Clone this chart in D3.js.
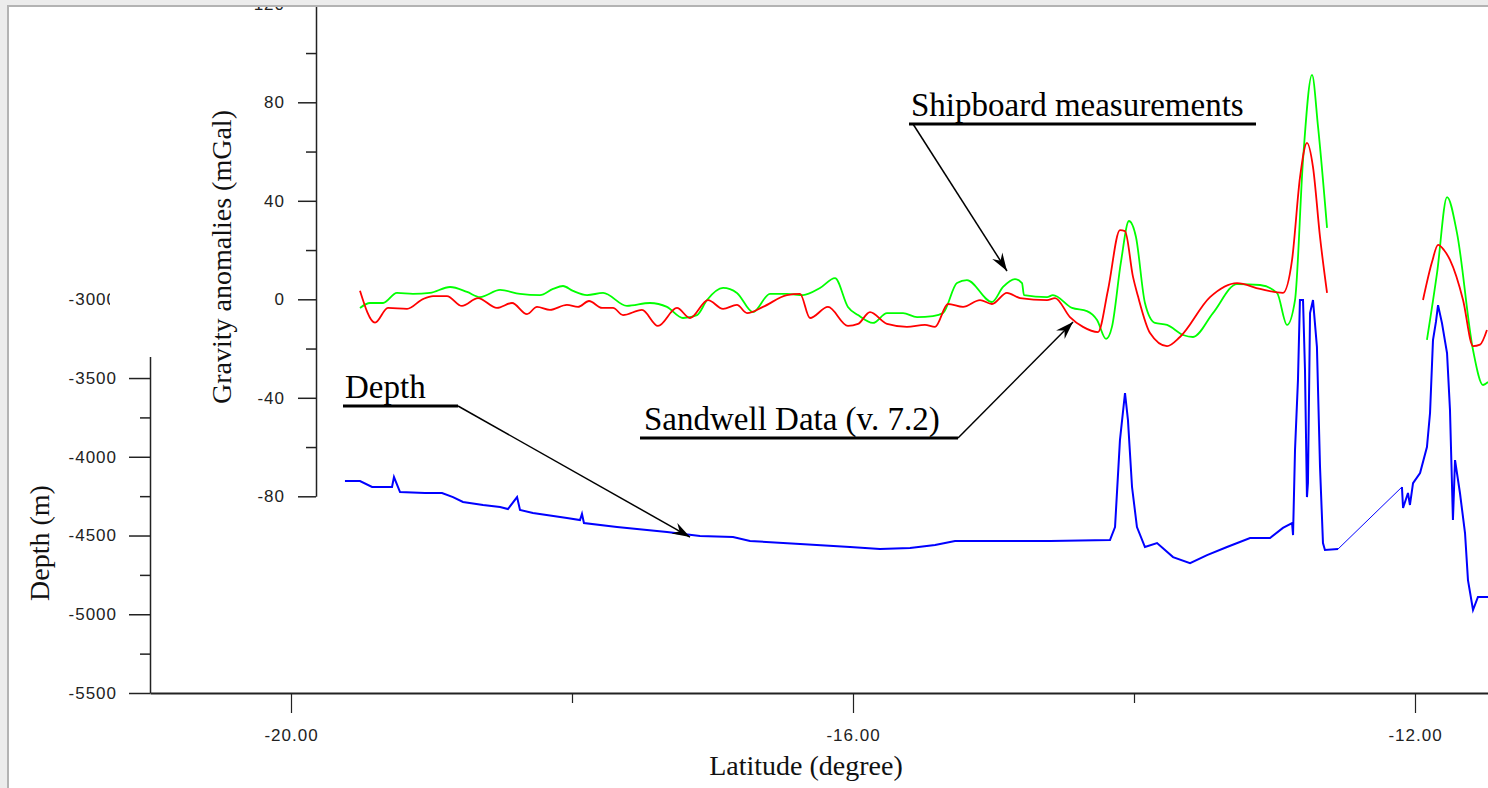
<!DOCTYPE html>
<html>
<head>
<meta charset="utf-8">
<script src="https://cdn.jsdelivr.net/npm/d3@7"></script>
<style>
  body { margin: 0; background: #ececec; }
  .axis .tick text { font-family: 'Liberation Sans', Arial, sans-serif; font-size: 17px; letter-spacing: 1px; fill: #222; }
  .axis path, .axis line { stroke: #222; }
  .title { font-family: 'Liberation Serif', 'Times New Roman', serif; font-size: 28px; fill: #111; }
  .note { font-family: 'Liberation Serif', 'Times New Roman', serif; font-size: 33px; fill: #000; }
</style>
</head>
<body>
<svg id="chart"></svg>
<script>
// ticks
const latTicks = [-20, -16, -12]
const latMinor = [-18, -14]
const gravTicks = [-80, -40, 0, 40, 80, 120]
const gravMinor = [-60, -20, 20, 60, 100]
const depthTicks = [-5500, -5000, -4500, -4000, -3500, -3000]
const depthMinor = [-5250, -4750, -4250, -3750, -3250]

// Sandwell data v7.2 (lat, mGal)
const sandwellA = [
  [-19.509, 3.5], [-19.402, -9.5], [-19.310, -3.5], [-19.174, -3.9], [-19.061, 0.1], [-18.989, 1.3],
  [-18.890, 1.3], [-18.783, -2.7], [-18.669, 0.5], [-18.534, -3.5], [-18.427, -1.5], [-18.320, -6.0],
  [-18.249, -3.1], [-18.157, -4.3], [-18.036, -2.3], [-17.957, -3.1], [-17.879, -0.7], [-17.786, -3.5],
  [-17.708, -3.5], [-17.637, -6.4], [-17.502, -4.3], [-17.388, -10.8], [-17.253, -3.5], [-17.160, -7.6],
  [-17.032, -0.3], [-16.925, -3.9], [-16.826, -2.3], [-16.754, -5.6], [-16.641, -3.1], [-16.470, 1.7],
  [-16.377, 2.2], [-16.306, -7.6], [-16.178, -3.1], [-16.036, -10.8], [-15.964, -10.0], [-15.879, -5.2],
  [-15.758, -10.0], [-15.616, -11.2], [-15.488, -10.4], [-15.416, -11.2], [-15.324, -1.9], [-15.217, -3.1],
  [-15.096, -0.3], [-15.011, -1.9], [-14.904, 2.6], [-14.811, 0.5], [-14.619, -0.3], [-14.562, 0.5],
  [-14.456, -7.2], [-14.363, -11.2], [-14.256, -13.3], [-14.185, 3.8], [-14.100, 28.1], [-14.064, 27.7],
  [-14.007, 9.1], [-13.972, 1.3], [-13.886, -13.7], [-13.765, -19.0], [-13.673, -15.3], [-13.459, 0.9],
  [-13.267, 6.6], [-13.103, 4.2], [-12.940, 2.6], [-12.875, 16.0], [-12.818, 49.7], [-12.769, 63.5],
  [-12.726, 53.7], [-12.676, 25.3], [-12.626, 2.6]
]
const sandwellB = [
  [-11.943, -0.3], [-11.879, 15.1], [-11.836, 22.1], [-11.794, 20.0], [-11.751, 16.0], [-11.658, -0.3],
  [-11.587, -19.0], [-11.537, -18.4], [-11.488, -12.5]
]

// shipboard measurements (lat, mGal)
const shipboardA = [
  [-19.509, -3.5], [-19.438, -1.5], [-19.345, -1.5], [-19.246, 2.6], [-19.132, 2.2], [-19.011, 2.6],
  [-18.868, 5.0], [-18.747, 3.0], [-18.655, 0.9], [-18.512, 3.8], [-18.370, 2.2], [-18.228, 1.7],
  [-18.135, 4.2], [-18.064, 5.4], [-17.993, 3.4], [-17.893, 1.7], [-17.779, 2.6], [-17.609, -2.7],
  [-17.445, -1.5], [-17.324, -3.1], [-17.210, -7.6], [-17.110, -6.4], [-17.039, -0.3], [-16.925, 4.6],
  [-16.826, 2.6], [-16.712, -5.2], [-16.591, 2.2], [-16.470, 2.2], [-16.356, 1.7], [-16.235, 4.6],
  [-16.128, 8.6], [-16.036, -3.1], [-15.964, -6.4], [-15.858, -9.6], [-15.758, -5.6], [-15.644, -5.6],
  [-15.544, -7.2], [-15.431, -6.8], [-15.359, -5.6], [-15.260, 6.6], [-15.189, 7.8], [-15.011, -1.1],
  [-14.932, 5.0], [-14.847, 8.2], [-14.797, 6.6], [-14.783, 1.7], [-14.619, 0.9], [-14.577, 1.7],
  [-14.441, -3.5], [-14.335, -4.8], [-14.263, -8.4], [-14.199, -16.1], [-14.157, -11.2], [-14.093, 15.1],
  [-14.036, 31.8], [-13.986, 25.3], [-13.922, -1.5], [-13.851, -9.6], [-13.765, -10.4], [-13.651, -14.5],
  [-13.580, -15.3], [-13.438, -5.6], [-13.267, 6.2], [-13.103, 5.8], [-12.982, 2.6], [-12.911, -10.4],
  [-12.854, -0.3], [-12.797, 56.6], [-12.733, 91.1], [-12.690, 70.0], [-12.626, 29.0]
]
const shipboardB = [
  [-11.915, -16.5], [-11.843, 10.7], [-11.772, 41.5], [-11.701, 26.9], [-11.587, -20.6], [-11.516, -34.8],
  [-11.480, -33.6]
]

// depth (lat, m)
const depthA = [
  [-19.616, -4154], [-19.509, -4154], [-19.423, -4192], [-19.281, -4192], [-19.267, -4129], [-19.224, -4224],
  [-19.046, -4230], [-18.925, -4230], [-18.847, -4256], [-18.776, -4287], [-18.633, -4306], [-18.512, -4319],
  [-18.456, -4332], [-18.391, -4256], [-18.370, -4338], [-18.278, -4357], [-18.036, -4389], [-17.943, -4402],
  [-17.929, -4363], [-17.915, -4421], [-17.680, -4446], [-17.324, -4478], [-17.089, -4503], [-16.854, -4510],
  [-16.733, -4535], [-16.377, -4554], [-16.021, -4573], [-15.808, -4586], [-15.594, -4579], [-15.416, -4560],
  [-15.274, -4535], [-14.954, -4535], [-14.598, -4535], [-14.171, -4529], [-14.135, -4446], [-14.100, -3894],
  [-14.064, -3595], [-14.043, -3767], [-14.014, -4192], [-13.979, -4446], [-13.922, -4573], [-13.836, -4548],
  [-13.722, -4637], [-13.601, -4675], [-13.480, -4624], [-13.338, -4573], [-13.174, -4516], [-13.032, -4516],
  [-12.940, -4452], [-12.875, -4421], [-12.868, -4497], [-12.854, -3957], [-12.833, -3513], [-12.819, -3005],
  [-12.797, -3005], [-12.783, -3449], [-12.769, -4256], [-12.762, -4167], [-12.747, -3087], [-12.726, -3005],
  [-12.698, -3303], [-12.676, -4065], [-12.655, -4548], [-12.641, -4592], [-12.548, -4586]
]
const depthB = [
  [-12.093, -4192], [-12.085, -4325], [-12.050, -4230], [-12.036, -4306], [-12.014, -4167], [-11.964, -4103],
  [-11.915, -3938], [-11.893, -3722], [-11.872, -3259], [-11.851, -3144], [-11.836, -3037], [-11.808, -3151],
  [-11.772, -3341], [-11.751, -3703], [-11.730, -4402], [-11.715, -4021], [-11.680, -4230], [-11.644, -4484],
  [-11.623, -4783], [-11.587, -4973], [-11.552, -4890], [-11.480, -4890]
]

const width = 1488
const height = 788

const svg = d3.select('#chart')
  .attr('width', width)
  .attr('height', height)
  .style('display', 'block')

const defs = svg.append('defs')
defs.append('clipPath').attr('id', 'frame')
  .append('rect')
  .attr('x', 9).attr('y', 7)
  .attr('width', width - 9).attr('height', height - 7)

defs.append('marker')
  .attr('id', 'arrow')
  .attr('viewBox', '-18 -7 20 14')
  .attr('markerWidth', 20)
  .attr('markerHeight', 14)
  .attr('markerUnits', 'userSpaceOnUse')
  .attr('orient', 'auto')
  .attr('refX', 0)
  .attr('refY', 0)
  .append('path')
  .attr('d', 'M0,0 L-18,-6 L-12,0 L-18,6 Z')
  .attr('fill', '#000')

// frame
svg.append('rect').attr('x', 9).attr('y', 7)
  .attr('width', width - 9).attr('height', height - 7).attr('fill', '#fff')
svg.append('line').attr('x1', 8).attr('x2', 8).attr('y1', 5).attr('y2', height)
  .attr('stroke', '#b3b3b3').attr('stroke-width', 2)
svg.append('line').attr('x1', 8).attr('x2', width).attr('y1', 6).attr('y2', 6)
  .attr('stroke', '#b3b3b3').attr('stroke-width', 2)

const g = svg.append('g').attr('clip-path', 'url(#frame)')

// scales
const x = d3.scaleLinear().domain([-20, -12]).range([291, 1415])
x.domain([x.invert(150), x.invert(width)]).range([150, width])

const yG = d3.scaleLinear().domain([-80, 120]).range([496.3, 3.8])
const yD = d3.scaleLinear().domain([-5500, -3000]).range([693, 299.3])

const plain = d => String(d)

// depth axis (left)
const depthAxis = g.append('g').attr('class', 'axis')
  .attr('transform', 'translate(150,0)')
  .call(d3.axisLeft(yD).tickValues(depthTicks).tickSize(21).tickSizeOuter(0).tickPadding(12)
    .tickFormat(plain))
depthAxis.selectAll('path, line').attr('stroke-width', 1.5)

g.append('g').attr('class', 'axis')
  .attr('transform', 'translate(150,0)')
  .call(d3.axisLeft(yD).tickValues(depthMinor).tickSize(10).tickFormat(''))
  .call(a => a.select('.domain').remove())
  .selectAll('line').attr('stroke-width', 1.5)

// the gravity panel sits on top of the depth axis
g.append('rect').attr('x', 110).attr('y', 0)
  .attr('width', 190).attr('height', 357).attr('fill', '#fff')

// gravity axis
const gravAxis = g.append('g').attr('class', 'axis')
  .attr('transform', 'translate(316,0)')
  .call(d3.axisLeft(yG).tickValues(gravTicks).tickSize(18).tickSizeOuter(0).tickPadding(13)
    .tickFormat(plain))
gravAxis.selectAll('path, line').attr('stroke-width', 1.5)

g.append('g').attr('class', 'axis')
  .attr('transform', 'translate(316,0)')
  .call(d3.axisLeft(yG).tickValues(gravMinor).tickSize(10).tickFormat(''))
  .call(a => a.select('.domain').remove())
  .selectAll('line').attr('stroke-width', 1.5)

// x axis
const xAxis = g.append('g').attr('class', 'axis')
  .attr('transform', 'translate(0,693)')
  .call(d3.axisBottom(x).tickValues(latTicks).tickSize(20).tickSizeOuter(0).tickPadding(16)
    .tickFormat(d => d.toFixed(2)))
xAxis.select('.domain').attr('stroke-width', 2)
xAxis.selectAll('line').attr('stroke-width', 1.2)

g.append('g').attr('class', 'axis')
  .attr('transform', 'translate(0,693)')
  .call(d3.axisBottom(x).tickValues(latMinor).tickSize(10).tickFormat(''))
  .call(a => a.select('.domain').remove())
  .selectAll('line').attr('stroke-width', 1.2)

// axis titles
g.append('text').attr('class', 'title')
  .attr('transform', 'translate(231,257) rotate(-90)')
  .attr('text-anchor', 'middle')
  .text('Gravity anomalies (mGal)')

g.append('text').attr('class', 'title')
  .attr('transform', 'translate(49,543) rotate(-90)')
  .attr('text-anchor', 'middle')
  .text('Depth (m)')

g.append('text').attr('class', 'title')
  .attr('x', 806).attr('y', 775)
  .attr('text-anchor', 'middle')
  .text('Latitude (degree)')

// lines
const gravLine = d3.line().x(d => x(d[0])).y(d => yG(d[1])).curve(d3.curveMonotoneX)
const depthLine = d3.line().x(d => x(d[0])).y(d => yD(d[1]))

;[shipboardA, shipboardB].forEach(seg => {
  g.append('path').datum(seg)
    .attr('d', gravLine)
    .attr('fill', 'none')
    .attr('stroke', '#00ff00')
    .attr('stroke-width', 1.8)
})

;[sandwellA, sandwellB].forEach(seg => {
  g.append('path').datum(seg)
    .attr('d', gravLine)
    .attr('fill', 'none')
    .attr('stroke', '#ff0000')
    .attr('stroke-width', 1.8)
})

// gap in the depth record, joined by a thin line
g.append('path').datum([depthA[depthA.length - 1], depthB[0]])
  .attr('d', depthLine)
  .attr('fill', 'none')
  .attr('stroke', '#0000ff')
  .attr('stroke-width', 1)

;[depthA, depthB].forEach(seg => {
  g.append('path').datum(seg)
    .attr('d', depthLine)
    .attr('fill', 'none')
    .attr('stroke', '#0000ff')
    .attr('stroke-width', 2)
})

// annotations
function note(label, tx, ty, ux1, ux2, uy, tip) {
  g.append('text').attr('class', 'note')
    .attr('x', tx).attr('y', ty)
    .text(label)
  g.append('line')
    .attr('x1', ux1).attr('x2', ux2).attr('y1', uy).attr('y2', uy)
    .attr('stroke', '#000').attr('stroke-width', 3)
  const sx = tip.side === 'left' ? ux1 + 4 : ux2
  g.append('line')
    .attr('x1', sx).attr('y1', uy)
    .attr('x2', tip.x).attr('y2', tip.y)
    .attr('stroke', '#000').attr('stroke-width', 1.5)
    .attr('marker-end', 'url(#arrow)')
}

note('Shipboard measurements', 911, 116, 909, 1256, 124,
  { x: x(-14.904), y: yG(11.5), side: 'left' })
note('Sandwell Data (v. 7.2)', 644, 430, 640, 958, 438,
  { x: x(-14.434), y: yG(-9.2), side: 'right' })
note('Depth', 345, 398, 343, 458, 406,
  { x: x(-17.16), y: yD(-4510), side: 'right' })
</script>
</body>
</html>
